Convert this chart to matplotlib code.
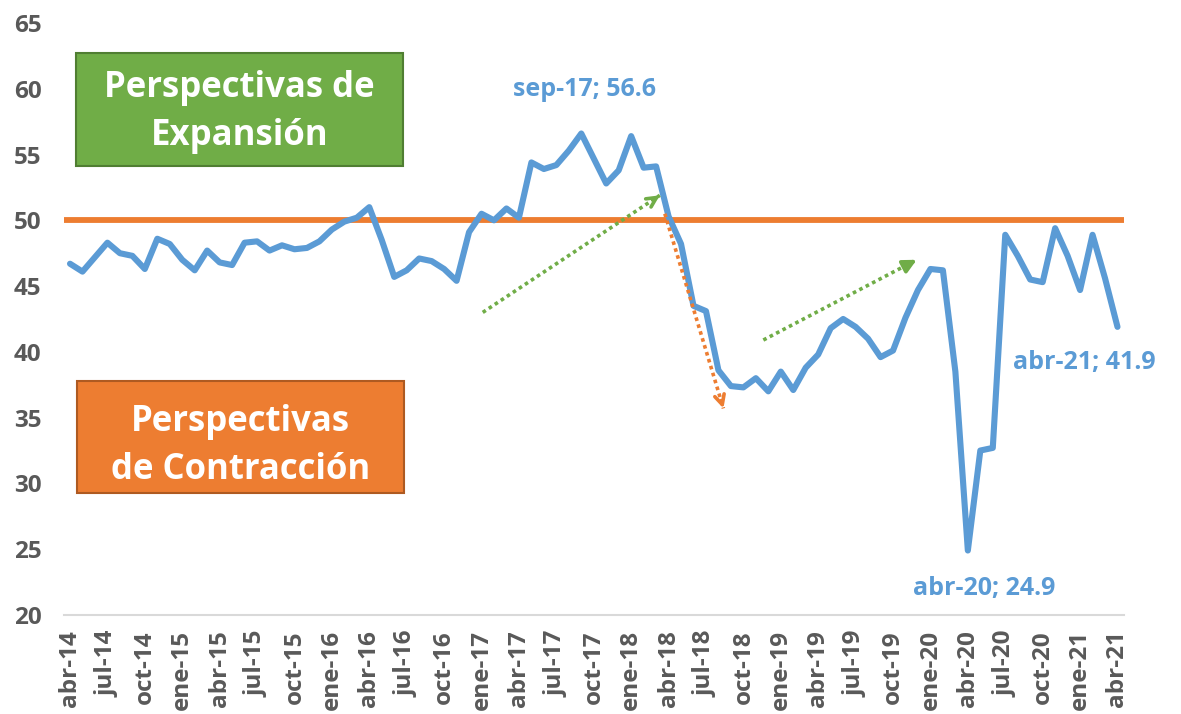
import matplotlib
matplotlib.use("Agg")
import numpy as np
import matplotlib.pyplot as plt
from matplotlib.patches import Rectangle

plt.rcParams["font.family"] = ["Open Sans", "DejaVu Sans"]

# monthly index values, abr-14 .. abr-21
values = [
    46.7, 46.1, 47.2, 48.3, 47.5, 47.3, 46.3, 48.6, 48.2, 47.0, 46.2, 47.7,
    46.8, 46.6, 48.3, 48.4, 47.7, 48.1, 47.8, 47.9, 48.4, 49.3, 49.9, 50.2,
    51.0, 48.5, 45.7, 46.2, 47.1, 46.9, 46.3, 45.4, 49.1, 50.5, 50.0, 50.9,
    50.2, 54.4, 53.9, 54.2, 55.3, 56.6, 54.7, 52.8, 53.8, 56.4, 54.0, 54.1,
    50.3, 48.2, 43.5, 43.1, 38.6, 37.4, 37.3, 38.0, 37.0, 38.5, 37.1, 38.8,
    39.8, 41.8, 42.5, 41.9, 41.0, 39.6, 40.1, 42.6, 44.7, 46.3, 46.2, 38.5,
    24.9, 32.5, 32.7, 48.9, 47.3, 45.5, 45.3, 49.4, 47.3, 44.7, 48.9, 45.6,
    41.9,
]
tick_labels = [
    "abr-14", "jul-14", "oct-14", "ene-15", "abr-15", "jul-15", "oct-15",
    "ene-16", "abr-16", "jul-16", "oct-16", "ene-17", "abr-17", "jul-17",
    "oct-17", "ene-18", "abr-18", "jul-18", "oct-18", "ene-19", "abr-19",
    "jul-19", "oct-19", "ene-20", "abr-20", "jul-20", "oct-20", "ene-21",
    "abr-21",
]
threshold = 50
highlights = [(41, "sep-17; 56.6"), (72, "abr-20; 24.9"), (84, "abr-21; 41.9")]

BLUE = "#5B9BD5"
ORANGE = "#ED7D31"
GREEN = "#70AD47"
GRAY = "#595959"

x = np.arange(len(values))

fig = plt.figure(figsize=(11.81, 7.14), dpi=100)
ax = fig.add_axes([0.054, 0.1387, 0.8975, 0.8291])

ax.axhline(threshold, color=ORANGE, lw=4.2, zorder=2)
ax.plot(x, values, color=BLUE, lw=4.4, solid_joinstyle="round",
        solid_capstyle="round", zorder=3)

ax.set_xlim(-0.5, len(values) - 0.5)
ax.set_ylim(20, 65)
ax.set_yticks(range(20, 66, 5))
ax.set_xticks(x[::3])
ax.set_xticklabels(tick_labels, rotation=90, ha="center", va="top")
for lab in ax.get_xticklabels() + ax.get_yticklabels():
    lab.set_fontweight("bold")
    lab.set_color(GRAY)
    lab.set_fontsize(17.5)
ax.tick_params(axis="both", length=0)
ax.tick_params(axis="x", pad=11)
ax.tick_params(axis="y", pad=16)
for s in ["top", "right", "left"]:
    ax.spines[s].set_visible(False)
ax.spines["bottom"].set_color("#D9D9D9")
ax.spines["bottom"].set_linewidth(1.5)

# point labels
i, txt = highlights[0]
ax.annotate(txt, (i, values[i]), xytext=(2, 32), textcoords="offset points",
            ha="center", va="center", color=BLUE, fontsize=18, fontweight="bold")
i, txt = highlights[1]
ax.annotate(txt, (i, values[i]), xytext=(12, -27), textcoords="offset points",
            ha="center", va="center", color=BLUE, fontsize=18, fontweight="bold")
i, txt = highlights[2]
ax.annotate(txt, (i, values[i]), xytext=(-75, -26), textcoords="offset points",
            ha="left", va="center", color=BLUE, fontsize=18, fontweight="bold")

# trend arrows (data coords)
def dotted_arrow(p0, p1, color, style):
    ax.plot([p0[0], p1[0]], [p0[1], p1[1]], color=color, lw=2.6,
            linestyle=(0, (1, 1)), dash_capstyle="butt", zorder=4)
    back = (p1[0] - 0.04 * (p1[0] - p0[0]), p1[1] - 0.04 * (p1[1] - p0[1]))
    ax.annotate("", xy=p1, xytext=back,
                arrowprops=dict(arrowstyle=style, color=color, lw=2.6,
                                shrinkA=0, shrinkB=0), zorder=4)

dotted_arrow((33.1, 43.0), (47.3, 51.9), GREEN, "->,head_length=0.7,head_width=0.35")
dotted_arrow((47.7, 50.5), (52.4, 35.7), ORANGE, "->,head_length=0.7,head_width=0.35")
dotted_arrow((55.6, 40.9), (67.9, 47.0), GREEN, "-|>,head_length=0.8,head_width=0.4")

# boxes
ax.add_patch(Rectangle((0.0115, 0.758), 0.3085, 0.191, transform=ax.transAxes,
                       facecolor=GREEN, edgecolor="#507E32", lw=1.5, zorder=5))
ax.text(0.166, 0.849, "Perspectivas de\nExpansión", transform=ax.transAxes,
        ha="center", va="center", color="white", fontsize=25, fontweight="bold",
        linespacing=1.45, zorder=6)
ax.add_patch(Rectangle((0.0125, 0.206), 0.3085, 0.189, transform=ax.transAxes,
                       facecolor=ORANGE, edgecolor="#AE5A21", lw=1.5, zorder=5))
ax.text(0.167, 0.286, "Perspectivas\nde Contracción", transform=ax.transAxes,
        ha="center", va="center", color="white", fontsize=25, fontweight="bold",
        linespacing=1.45, zorder=6)

fig.savefig("out.png", dpi=100)
